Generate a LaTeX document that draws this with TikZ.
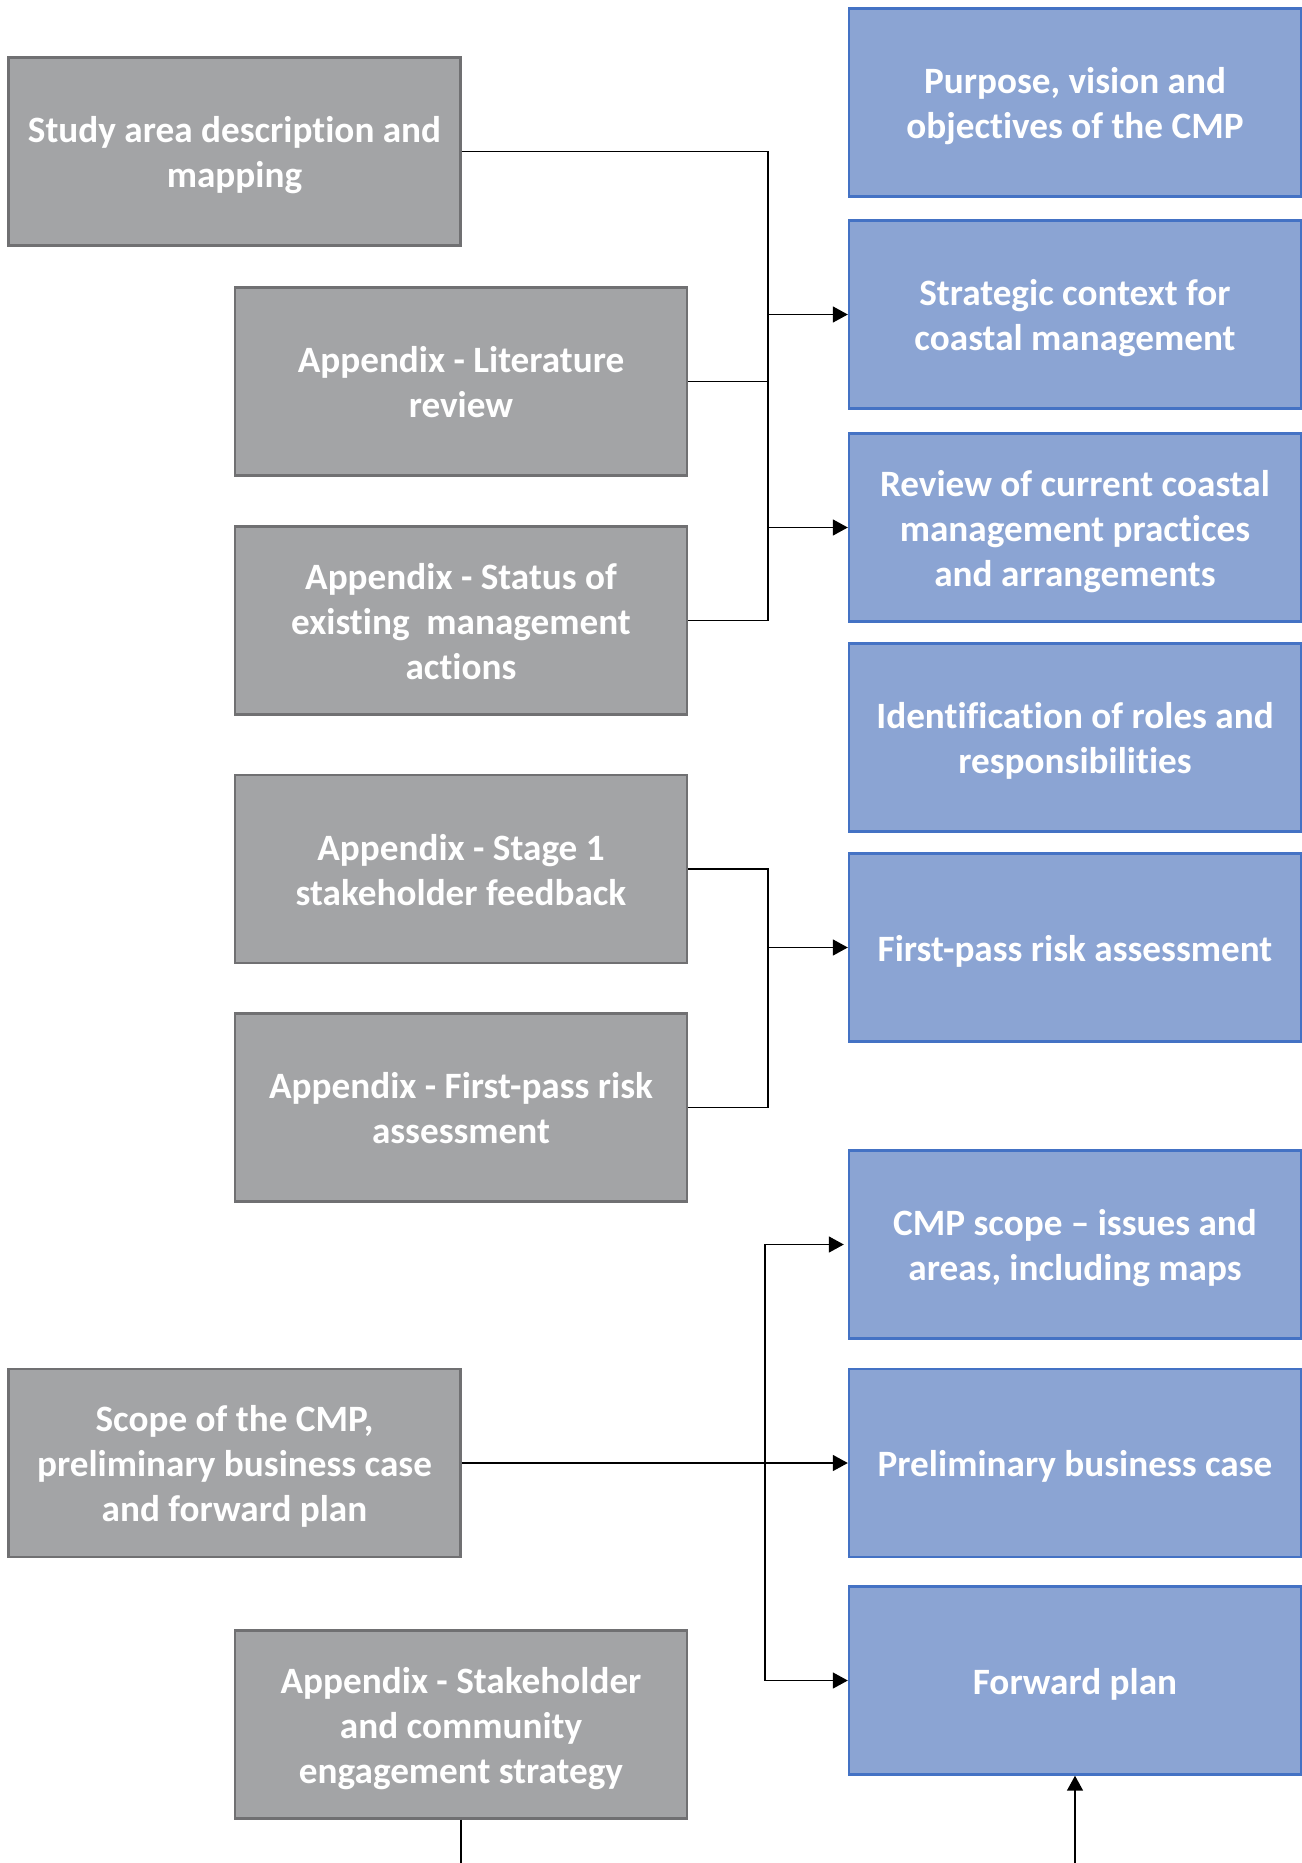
\documentclass[tikz,border=0pt]{standalone}
\usepackage{fontspec}
\setmainfont{Carlito}[Ligatures=NoCommon]
\usetikzlibrary{arrows.meta}
\definecolor{boxgrey}{RGB}{163,164,166}
\definecolor{linegrey}{RGB}{112,112,114}
\definecolor{boxblue}{RGB}{139,164,211}
\definecolor{lineblue}{RGB}{68,114,196}
\newcommand{\ts}{\rule{0pt}{19.5pt}}
\newcommand{\bs}{\rule[-6pt]{0pt}{6pt}}

\begin{document}
\begin{tikzpicture}[x=0.5pt, y=-0.5pt,
        greybox/.style={draw=linegrey, fill=boxgrey, line width=1.2pt, minimum width=226pt, minimum height=94pt, align=center, text=white, font=\fontsize{18.6}{22.5}\selectfont\bfseries},
        bluebox/.style={greybox, draw=lineblue, fill=boxblue},
        arrow/.style={-{Triangle[length=7.5pt,width=8pt]}},
        line width=0.75pt]
        \useasboundingbox (0,0) rectangle (1301,1863);
        % left column
        \node[greybox] (study) at (234.5,151.5) {\ts Study area description and\\mapping\bs};
        \node[greybox] (lit) at (461,381.5) {\ts Appendix - Literature\\review\bs};
        \node[greybox] (status) at (461,620.5) {\ts Appendix - Status of\\existing\ \ management\\actions\bs};
        \node[greybox] (stage) at (461,869) {\ts Appendix - Stage 1\\stakeholder feedback\bs};
        \node[greybox] (riskapp) at (461,1107.5) {\ts Appendix - First-pass risk\\assessment\bs};
        \node[greybox] (scope) at (234.5,1463) {\ts Scope of the CMP,\\preliminary business case\\and forward plan\bs};
        \node[greybox] (engage) at (461,1724.5) {\ts Appendix - Stakeholder\\and community\\engagement strategy\bs};
        % right column
        \node[bluebox] (purpose) at (1075,102.5) {\ts Purpose, vision and\\objectives of the CMP\bs};
        \node[bluebox] (context) at (1075,314.5) {\ts Strategic context for\\coastal management\bs};
        \node[bluebox] (review) at (1075,527.5) {\ts Review of current coastal\\management practices\\and arrangements\bs};
        \node[bluebox] (roles) at (1075,737.5) {\ts Identification of roles and\\responsibilities\bs};
        \node[bluebox] (risk) at (1075,947.5) {\ts First-pass risk assessment\bs};
        \node[bluebox] (cmpscope) at (1075,1244.5) {\ts CMP scope -- issues and\\areas, including maps\bs};
        \node[bluebox] (business) at (1075,1463) {\ts Preliminary business case\bs};
        \node[bluebox] (forward) at (1075,1680.5) {\ts Forward plan\bs};
        % junction lines
        \coordinate (sp1) at (768,0);
        \coordinate (sp3) at (765,0);
        \draw (study.east) -| (sp1 |- status.east) -- (status.east);
        \draw (lit.east) -- (sp1 |- lit.east);
        \draw[arrow] (sp1 |- context.west) -- (context.west);
        \draw[arrow] (sp1 |- review.west) -- (review.west);
        \draw (stage.east) -| (sp1 |- riskapp.east) -- (riskapp.east);
        \draw[arrow] (sp1 |- risk.west) -- (risk.west);
        \draw[arrow] (scope.east) -- (business.west);
        \draw[arrow] (sp3 |- business.west) |- ([xshift=-2pt]cmpscope.west);
        \draw[arrow] (sp3 |- business.west) |- (forward.west);
        % lines leaving the page
        \coordinate (engout) at (461,1900);
        \coordinate (fwdin) at (1075,1900);
        \draw (engage.south) -- (engout);
        \draw[arrow] (fwdin) -- (forward.south);
    \end{tikzpicture}
\end{document}
